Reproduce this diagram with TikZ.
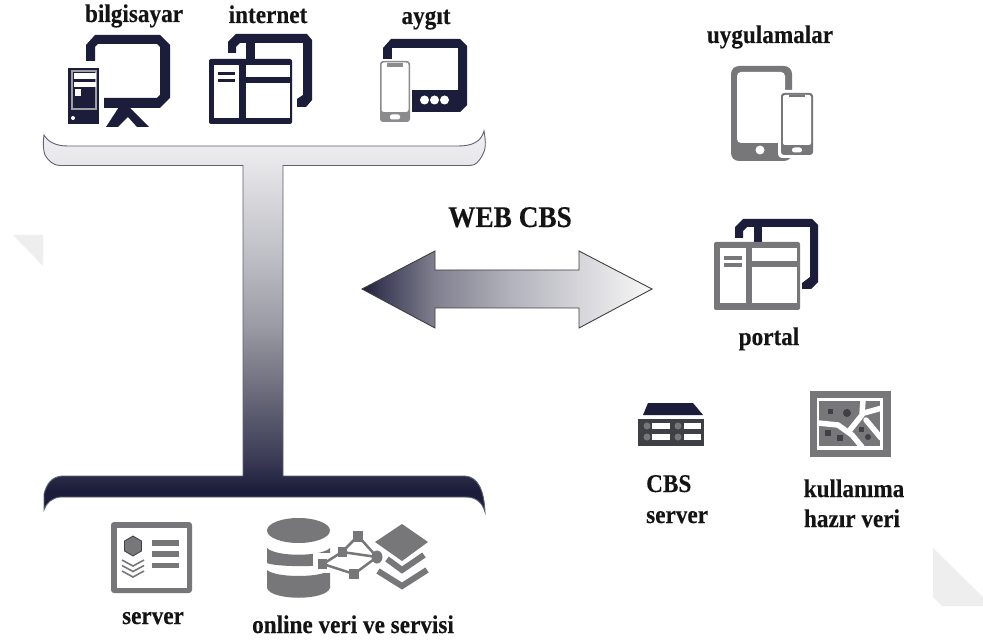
\documentclass[tikz,border=0pt]{standalone}
\usepackage{fontspec}
\setmainfont{Liberation Serif}
\newfontfamily\lblfont[FakeStretch=0.91,FakeBold=0.25]{Liberation Serif Bold}
\definecolor{navy}{HTML}{1B1D3A}
\definecolor{gry}{HTML}{77777A}
\definecolor{dgry}{HTML}{3F3F46}
\definecolor{wm}{HTML}{EEEEEE}
\definecolor{ta}{HTML}{F0F0F2}
\definecolor{tb}{HTML}{E8E8EA}
\definecolor{tc}{HTML}{BCBCC4}
\definecolor{td}{HTML}{9A9AA4}
\definecolor{te}{HTML}{6A6A7A}
\definecolor{tf}{HTML}{3A3A55}
\definecolor{aa}{HTML}{3A3A55}
\definecolor{ab}{HTML}{80808F}
\definecolor{ac}{HTML}{B0B0BA}
\definecolor{ad}{HTML}{D5D5DA}
\definecolor{ae}{HTML}{F8F8F8}
\pgfdeclareverticalshading{tshade}{100bp}{color(0bp)=(navy); color(27.9bp)=(navy); color(31.8bp)=(tf); color(40.6bp)=(te); color(49.3bp)=(td); color(58bp)=(tc); color(71.2bp)=(tb); color(75bp)=(ta); color(100bp)=(ta)}
\pgfdeclarehorizontalshading{ashade}{100bp}{color(0bp)=(navy); color(25bp)=(navy); color(28bp)=(aa); color(37.6bp)=(ab); color(50bp)=(ac); color(62.4bp)=(ad); color(75bp)=(ae); color(100bp)=(ae)}
\tikzset{
  lbl/.style={font=\lblfont\fontsize{25.5}{25.5}\selectfont, anchor=base, inner sep=0pt, text=black!92},
  lblL/.style={lbl, anchor=base west},
  big/.style={lbl, font=\lblfont\fontsize{30}{30}\selectfont},
  nv/.style={fill=navy, draw=none},
  gr/.style={fill=gry, draw=none},
  dk/.style={fill=dgry, draw=none},
  wh/.style={fill=white, draw=none},
  road/.style={draw=white, line width=5.5pt, line join=round, line cap=round},
  netl/.style={draw=gry, line width=2.5pt},
  chev/.style={draw=gry, line width=6pt, line join=miter},
  thinchev/.style={draw=gry, line width=1.6pt},
}
\begin{document}
\begin{tikzpicture}[x=1pt,y=-1pt]
\useasboundingbox (0,0) rectangle (983,644);
\fill[white] (0,0) rectangle (983,644);
% watermark corners
\fill[wm] (13,235) -- (43,235) -- (43,266) -- cycle;
\fill[wm] (933,548) -- (983,597) -- (983,606) -- (942,606) -- (933,597) -- cycle;

% T-shaped bus
\path[shading=tshade, draw=navy!70!white, line width=0.9pt]
  (44,135) .. controls (48,142) and (56,146) .. (68,146)
  -- (458,146) .. controls (472,146) and (481,142) .. (484,131)
  .. controls (486,142) and (486,150) .. (482,156)
  .. controls (479,161) and (476,165.5) .. (470,165.5) -- (283,165.5) -- (283,476) -- (465,476)
  .. controls (478,477) and (484,490) .. (485,512)
  .. controls (482,502) and (476,497) .. (465,497) -- (60,497)
  .. controls (52,498) and (46,503) .. (44,510)
  -- (44,494) .. controls (47,483) and (52,477) .. (62,476)
  -- (243,476) -- (243,165.5) -- (60,165.5)
  .. controls (52,165) and (48,160) .. (45,155)
  .. controls (43,150) and (43,142) .. (44,135) -- cycle;

% double arrow
\path[shading=ashade, draw=black!75, line width=0.9pt]
  (362,289) -- (435,251) -- (435,270) -- (579,270) -- (579,251) -- (652,289)
  -- (579,328) -- (579,308) -- (435,308) -- (435,328) -- cycle;

% --- bilgisayar icon
\fill[nv] (86,61) -- (86,45) -- (95,35) -- (160,35) -- (170,45) -- (170,98) -- (160,108)
  -- (104,108) -- (104,98) -- (157,98) -- (160,95) -- (160,47) -- (157,44) -- (98,44) -- (95,47) -- (95,61) -- cycle;
\fill[nv] (119,107) -- (129,107) -- (149,127) -- (137,127) -- (128,117) -- (118,127) -- (106,127) -- cycle;
\fill[nv] (68,68) rectangle (99,124);
\fill[gry!70!white] (71,70) rectangle (97,110);
\fill[nv] (73,72) rectangle (95,108);
\fill[wh] (73.5,73) rectangle (95.5,79);
\fill[wh] (73.5,82) rectangle (95.5,87);
\fill[wh] (74.5,89) rectangle (81,96);
\fill[wh] (73,118) circle (2);

% --- internet icon
\fill[nv] (228,53) -- (228,42) -- (236,34) -- (307,34) -- (312,40) -- (312,100) -- (306,107) -- (297,107)
  -- (297,99) -- (303,95) -- (303,43) -- (240,43) -- (236,47) -- (236,53) -- cycle;
\fill[nv] (246,43) rectangle (255,60);
\fill[nv, rounded corners=2pt] (209,59) rectangle (292,124);
\fill[wh] (214,65) rectangle (239,118);
\fill[wh] (246,65) rectangle (290,77);
\fill[wh] (246,83) rectangle (290,118);
\fill[nv] (218,72) rectangle (235,75);
\fill[nv] (218,79) rectangle (235,82);

% --- aygit icon
\fill[nv] (383,48) -- (391,39) -- (460,39) -- (467,46) -- (467,105) -- (460,112) -- (390,112) -- (383,105) -- cycle;
\fill[wh] (392,48) rectangle (458,90);
\fill[wh] (424.5,100) circle (4.5);
\fill[wh] (434.5,100) circle (4.5);
\fill[wh] (444.5,100) circle (4.5);
\fill[wh] (378,59) rectangle (412,123);
\fill[gry!85!white, rounded corners=3pt] (380,61) -- (410,61) -- (410,122) -- (380,122) -- cycle;
\fill[wh, rounded corners=2.5pt] (381.5,62.5) rectangle (408.5,112);
\fill[gry!85!white] (387,63) rectangle (403,67);
\fill[wh, rounded corners=2pt] (390,114.5) rectangle (400,119.5);

% --- uygulamalar icon
\fill[gr, rounded corners=8pt] (731,66) rectangle (792,161);
\fill[wh, rounded corners=4pt] (737,72) rectangle (785,143);
\fill[wh] (760,150) circle (4.5);
\fill[wh, rounded corners=4pt] (778,90) rectangle (816,158);
\fill[gr, rounded corners=3pt] (781,93) rectangle (813,155);
\fill[wh, rounded corners=2pt] (783,95) rectangle (811,145);
\fill[gr] (789,95) rectangle (805,97.5);
\fill[wh, rounded corners=2.5pt] (792,147.5) rectangle (802,152.5);

% --- portal icon
\fill[nv] (735,238) -- (735,227) -- (743,219) -- (812,219) -- (818,225) -- (818,282) -- (811,289) -- (802,289)
  -- (802,283) -- (810,277) -- (810,227) -- (747,227) -- (743,231) -- (743,238) -- cycle;
\fill[nv] (754,227) rectangle (762,242);
\fill[gr, rounded corners=2pt] (714,242) rectangle (800,310);
\fill[wh] (720,248) rectangle (746,303);
\fill[wh] (752,248) rectangle (797,261);
\fill[wh] (752,267) rectangle (797,303);
\fill[gr] (724,256) rectangle (742,260);
\fill[gr] (724,263) rectangle (742,267);

% --- CBS server icon
\fill[nv] (643,415) -- (648,403) -- (693,403) -- (703,415) -- cycle;
\fill[dk] (638,419) rectangle (704,446);
\foreach \xx in {647,678} \foreach \yy in {426,437} \fill[gry] (\xx,\yy) circle (3.5);
\foreach \xx/\xr in {652/670,684/701} \foreach \yy/\yr in {423/429,434/440} \fill[wh] (\xx,\yy) rectangle (\xr,\yr);

% --- map icon
\fill[gr] (810,391) rectangle (891,457);
\fill[wh] (817,398) rectangle (883,450);
\fill[gr] (819,401) rectangle (880,446);
\begin{scope}
\clip (819,401) rectangle (880,446);
\draw[road] (818,423) -- (838,425) -- (852,435) -- (862,447);
\draw[road] (863,400) -- (862,415) -- (850,430);
\draw[road] (882,408) -- (864,413);
\draw[road] (866,420) -- (881,438);
\end{scope}
\fill[dk] (827.5,408.5) rectangle (832.5,413.5);
\fill[dk] (847,413) circle (4);
\fill[dk] (825,430) rectangle (831,436);
\fill[dk] (837,435) rectangle (843,441);
\fill[dk] (858.5,426.5) rectangle (863.5,431.5);
\fill[dk] (868,437) circle (3);

% --- server icon
\fill[gr, rounded corners=3pt] (111,522) rectangle (192,593);
\fill[wh] (117,528) rectangle (187,588);
\draw[fill=gry, draw=dgry, line width=0.8pt] (133,536) -- (141.5,541) -- (141.5,551) -- (133,556) -- (124.5,551) -- (124.5,541) -- cycle;
\foreach \yy in {560,565.5,571} \draw[thinchev] (122,\yy) -- (133,\yy+6) -- (144,\yy);
\fill[gr] (152,540) rectangle (179,546);
\fill[gr] (152,551) rectangle (179,557);
\fill[gr] (152,563) rectangle (179,568);

% --- database + network + layers icon
\fill[gr] (298.5,530.5) ellipse (31.5 and 12.5);
\fill[gr] (267,548) .. controls (276,557) and (321,557) .. (330,548) -- (330,564) .. controls (320,567) and (276,567) .. (267,563) -- cycle;
\fill[gr] (267,570) .. controls (276,578) and (321,578) .. (330,570) -- (330,588) .. controls (326,601) and (271,601) .. (267,588) -- cycle;
\fill[wh] (313,553) rectangle (332,573);
\fill[gr] (318.3,559) rectangle (327.3,569);
\draw[netl] (323,564) -- (342,552) -- (358,536) -- (377,557) -- (354,574) -- (323,564);
\draw[netl] (342,552) -- (377,557);
\fill[gr] (353,531) rectangle (363,542);
\fill[gr] (338,547) rectangle (347,557);
\fill[gr] (349,569) rectangle (359,579);
\fill[gr] (377,557) ellipse (5.5 and 6.5);
\fill[gr] (375,542) -- (402,524) -- (428,542) -- (402,561) -- cycle;
\draw[chev] (387,559) -- (402,570) -- (424,555);
\draw[chev] (378,571) -- (402,586) -- (427,570);

% labels
\node[lbl] (bilg) at (134,22) {bilgisayar};
\node[lbl] (inet) at (268,23) {internet};
\node[lbl] (aygit) at (426,24) {aygıt};
\node[lbl] (uyg) at (770,43) {uygulamalar};
\node[big] (web) at (510,227) {WEB CBS};
\node[lbl] (portal) at (769,345) {portal};
\node[lblL] (cbs) at (646,492) {CBS};
\node[lblL] (cbss) at (646,523) {server};
\node[lbl] (kull) at (854,497) {kullanıma};
\node[lbl] (hazir) at (852,527) {hazır veri};
\node[lbl] (serv) at (153,624) {server};
\node[lbl] (onl) at (353,633) {online veri ve servisi};
\end{tikzpicture}
\end{document}
